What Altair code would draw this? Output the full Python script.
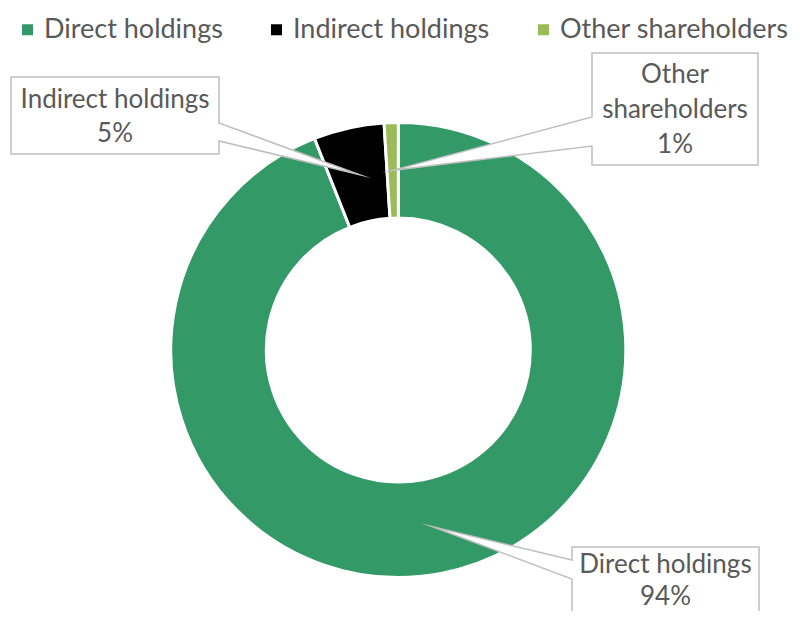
import math
import altair as alt
import pandas as pd

# ---- data ----
categories = ["Direct holdings", "Indirect holdings", "Other shareholders"]
values = [94, 5, 1]
colors = ["#339966", "#000000", "#9BBB59"]
label_lines = [["Direct holdings", "94%"], ["Indirect holdings", "5%"], ["Other", "shareholders", "1%"]]

# ---- layout (chart pixel coordinates) ----
CX, CY = 390.3, 342.0
R_OUT, R_IN = 227.5, 132.0
FONT = "Lato"
TEXT_COLOR = "#595959"
BOX_STROKE = "#BFBFBF"
FS = 26
LEG_FS = 27

# callout boxes: x0, x1, y0, y1, wedge side, wedge y-a, wedge y-b, text center x, first line y, line height
boxes = {
    "Direct holdings": (564, 751, 539, 690, "left", 552, 571, 657.5, 557, 32),
    "Indirect holdings": (3, 211, 69, 146, "right", 115, 133, 107, 92, 34),
    "Other shareholders": (584, 750, 45, 157, "left", 109, 138, 667, 67, 35),
}

df = pd.DataFrame({"category": categories, "value": values, "order": list(range(len(values)))})

# slice centroid positions (from data) as callout tips
total = sum(values)
features = []
txt_rows = []
cum = 0.0
r_mid = (R_OUT + R_IN) / 2
for cat, v, lines in zip(categories, values, label_lines):
    mid = (cum + v / 2) / total * 2 * math.pi
    cum += v
    tx = CX + r_mid * math.sin(mid)
    ty = CY - r_mid * math.cos(mid)
    x0, x1, y0, y1, side, wa, wb, lx, ly, lh = boxes[cat]
    if side == "right":
        ring = [[x0, y0], [x1, y0], [x1, wa], [tx, ty], [x1, wb], [x1, y1], [x0, y1], [x0, y0]]
    else:
        ring = [[x0, y0], [x1, y0], [x1, y1], [x0, y1], [x0, wb], [tx, ty], [x0, wa], [x0, y0]]
    features.append({"type": "Feature", "properties": {"name": cat},
                     "geometry": {"type": "Polygon", "coordinates": [ring]}})
    for i, line in enumerate(lines):
        txt_rows.append({"x": lx, "y": ly + i * lh, "text": line})

txt_df = pd.DataFrame(txt_rows)

color_scale = alt.Scale(domain=categories, range=colors)

donut = alt.Chart(df).mark_arc(innerRadius=R_IN, outerRadius=R_OUT, stroke="white", strokeWidth=3).encode(
    theta=alt.Theta("value:Q", stack=True),
    order=alt.Order("order:Q"),
    color=alt.Color("category:N", scale=color_scale, sort=categories,
                    legend=alt.Legend(title=None, orient="none", legendX=6, legendY=8,
                                      direction="horizontal", symbolType="square",
                                      symbolSize=121, symbolStrokeWidth=0,
                                      labelFont=FONT, labelFontSize=LEG_FS, labelColor=TEXT_COLOR,
                                      labelLimit=400, labelOffset=3, columnPadding=40,
                                      padding=0)),
    x=alt.value(CX),
    y=alt.value(CY),
)

callouts = alt.Chart(alt.Data(values=features)).mark_geoshape(
    fill="white", stroke=BOX_STROKE, strokeWidth=1.5, strokeJoin="miter", strokeMiterLimit=40
).project(type="identity", scale=1, translate=[0, 0])

texts = alt.Chart(txt_df).mark_text(
    font=FONT, fontSize=FS, color=TEXT_COLOR, align="center", baseline="middle"
).encode(
    x=alt.X("x:Q", scale=None),
    y=alt.Y("y:Q", scale=None),
    text="text:N",
)

chart = alt.layer(donut, callouts, texts).properties(
    width=784, height=603, autosize=alt.AutoSizeParams(type="none"), padding=0
).configure_view(stroke=None)

chart.save("out.html", embed_options={"renderer": "svg", "actions": False})
